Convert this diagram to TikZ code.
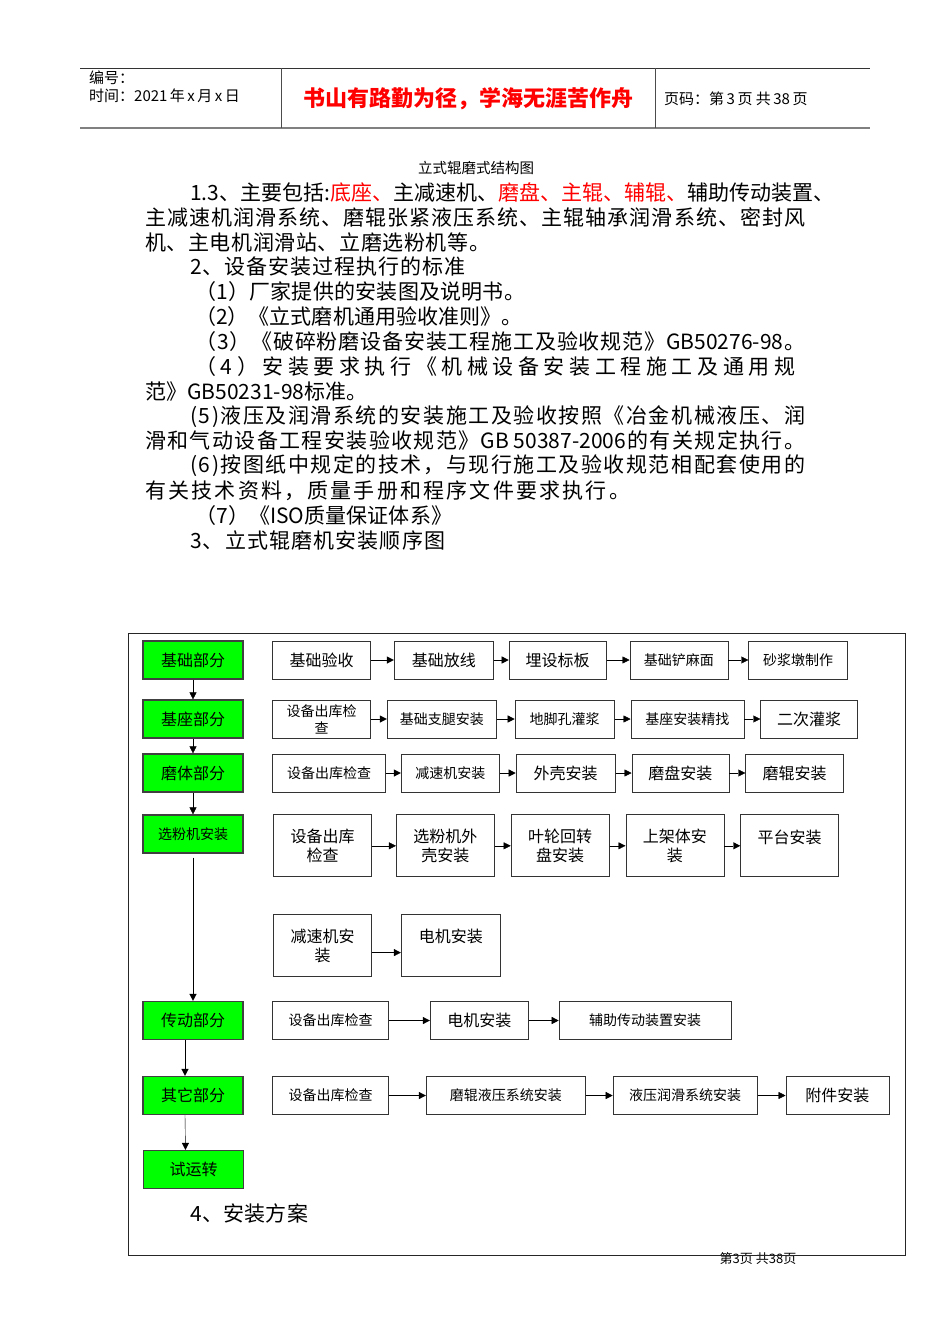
\documentclass[tikz,border=0pt]{standalone}
\usepackage{fontspec}
\newfontfamily\cjk{Noto Sans CJK SC}
\usetikzlibrary{positioning,arrows.meta}

\newcommand\fsA{\fontsize{16pt}{19pt}\selectfont}
\newcommand\fsB{\fontsize{14pt}{17pt}\selectfont}
\newcommand\fsT{\fontsize{21pt}{25pt}\selectfont}
\newcommand\fsH{\fontsize{15pt}{17pt}\selectfont}

% spread one line of text over a given width
\newcommand\sprstop{}
\def\sprstopm{\sprstop}
\def\sprA#1{{#1}\sprB}
\def\sprB#1{\def\sprtmp{#1}\ifx\sprtmp\sprstopm\else\hskip0pt plus1fil{#1}\expandafter\sprB\fi}
\newcommand\spread[2]{\makebox[#1][s]{\sprA#2\sprstop}}

\begin{document}
\begin{tikzpicture}[x=1pt, y=-1pt,
    base/.style = {rectangle, draw=black!80, line width=0.8pt,
text centered, font=\cjk\fsA},
    part/.style = {base, fill=green, draw=black!75, line width=1.2pt,
minimum width=100pt, minimum height=38pt},
    stepbox/.style = {base, minimum height=38pt, inner sep=1pt},
    tallbox/.style = {base, minimum width=98pt, minimum height=62pt,
inner sep=1pt, align=center},
    line/.style = {anchor=west, inner sep=0pt, font=\cjk\fsT},
    head/.style = {anchor=west, inner sep=0pt, font=\cjk\fsH},
    >={Triangle[length=7pt,width=7pt]}
]

  \fill[white] (0,0) rectangle (950,1344);
  \useasboundingbox (0,0) rectangle (950,1344);

  \draw[black!80, line width=0.8pt] (80,68) -- (870,68);
  \draw[black!50, line width=2pt] (80,128) -- (870,128);
  \draw[black!70, line width=0.8pt] (281,68) -- (281,128) (655,68) -- (655,128);

  \node (bianhao) [head] at (89,78) {编号：};
  \node (shijian) [head] at (89,96) {时间：2021\,年\,x\,月\,x\,日};
  \node (motto) [font=\cjk\bfseries\fontsize{22pt}{24pt}\selectfont, text=red] at (468,99) {书山有路勤为径，学海无涯苦作舟};
  \node (yema) [head] at (664,99) {页码：第\,3\,页 共\,38\,页};

  \node (title) [font=\cjk\fontsize{14.5pt}{16pt}\selectfont] at (476,168) {立式辊磨式结构图};
  \node (l1) [line] at (190,192) {\spread{630pt}{1.3、主要包括:{\color{red}底座、}主减速机、{\color{red}磨盘、}{\color{red}主辊、}{\color{red}辅辊、}辅助传动装置、}};
  \node (l2) [line] at (145,217) {\spread{660pt}{主减速机润滑系统、磨辊张紧液压系统、主辊轴承润滑系统、密封风}};
  \node (l3) [line] at (145,242) {\spread{345pt}{机、主电机润滑站、立磨选粉机等。}};
  \node (l4) [line] at (190,267) {\spread{275pt}{2、设备安装过程执行的标准}};
  \node (l5) [line] at (195,292) {\spread{330pt}{（1）厂家提供的安装图及说明书。}};
  \node (l6) [line] at (195,317) {\spread{327pt}{（2）《立式磨机通用验收准则》。}};
  \node (l7) [line] at (195,342) {\spread{610pt}{（3）《破碎粉磨设备安装工程施工及验收规范》{GB50276-98}。}};
  \node (l8) [line] at (195,367) {\spread{600pt}{（4）安装要求执行《机械设备安装工程施工及通用规}};
  \node (l9) [line] at (145,392) {\spread{215pt}{范》{GB50231-98}标准。}};
  \node (l10) [line] at (190,417) {\spread{615pt}{(5)液压及润滑系统的安装施工及验收按照《冶金机械液压、润}};
  \node (l11) [line] at (145,441) {\spread{660pt}{滑和气动设备工程安装验收规范》{GB 50387-2006}的有关规定执行。}};
  \node (l12) [line] at (190,466) {\spread{615pt}{(6)按图纸中规定的技术，与现行施工及验收规范相配套使用的}};
  \node (l13) [line] at (145,491) {\spread{485pt}{有关技术资料，质量手册和程序文件要求执行。}};
  \node (l14) [line] at (195,516) {\spread{257pt}{（7）《{ISO}质量保证体系》}};
  \node (l15) [line] at (190,541) {\spread{255pt}{3、立式辊磨机安装顺序图}};

  \node (footer) [font=\cjk\fontsize{13pt}{15pt}\selectfont] at (758,1259) {第3页 共38页};
  \draw[black!85, line width=0.9pt] (128,633) rectangle (905,1255);

  \node (jichu) [part] at (193,660) {基础部分};
  \node (jizuo) [part] at (193,719) {基座部分};
  \node (moti) [part] at (193,773) {磨体部分};
  \node (xuanfen) [part, font=\cjk\fsB] at (193,834) {选粉机安装};
  \node (chuandong) [part] at (193,1020.5) {传动部分};
  \node (qita) [part] at (193,1095.5) {其它部分};
  \node (shiyun) [part] at (193.5,1169.5) {试运转};

  \node (r1a) [stepbox, minimum width=98pt, right=28.5pt of jichu] {基础验收};
  \node (r1b) [stepbox, minimum width=99pt, right=23pt of r1a] {基础放线};
  \node (r1c) [stepbox, minimum width=97pt, right=15pt of r1b] {埋设标板};
  \node (r1d) [stepbox, minimum width=98pt, right=23pt of r1c, font=\cjk\fsB] {基础铲麻面};
  \node (r1e) [stepbox, minimum width=99pt, right=20pt of r1d, font=\cjk\fsB] {砂浆墩制作};

  \node (r2a) [stepbox, minimum width=98pt, right=28.5pt of jizuo, font=\cjk\fsB, align=center,
text height=30pt, text depth=2pt, inner ysep=3pt] {设备出库检\\查};
  \node (r2b) [stepbox, minimum width=109pt, right=16pt of r2a, font=\cjk\fsB] {基础支腿安装};
  \node (r2c) [stepbox, minimum width=99pt, right=18pt of r2b, font=\cjk\fsB] {地脚孔灌浆};
  \node (r2d) [stepbox, minimum width=113pt, right=16pt of r2c, font=\cjk\fsB] {基座安装精找};
  \node (r2e) [stepbox, minimum width=97pt, right=16pt of r2d] {二次灌浆};

  \node (r3a) [stepbox, minimum width=113pt, right=28.5pt of moti, font=\cjk\fsB] {设备出库检查};
  \node (r3b) [stepbox, minimum width=98pt, right=15pt of r3a, font=\cjk\fsB] {减速机安装};
  \node (r3c) [stepbox, minimum width=99pt, right=16pt of r3b] {外壳安装};
  \node (r3d) [stepbox, minimum width=97pt, right=16pt of r3c] {磨盘安装};
  \node (r3e) [stepbox, minimum width=98pt, right=16pt of r3d] {磨辊安装};

  \node (r4a) [tallbox, right=29.5pt of xuanfen.north east, anchor=north west] {设备出库\\检查};
  \node (r4b) [tallbox, right=24pt of r4a] {选粉机外\\壳安装};
  \node (r4c) [tallbox, right=16pt of r4b] {叶轮回转\\盘安装};
  \node (r4d) [tallbox, right=16pt of r4c] {上架体安\\装};
  \node (r4e) [tallbox, right=16pt of r4d] {平台安装\\\mbox{}};

  \node (r5a) [tallbox, below=37pt of r4a] {减速机安\\装};
  \node (r5b) [tallbox, minimum width=99pt, right=29pt of r5a] {电机安装\\\mbox{}};

  \node (r6a) [stepbox, minimum width=116pt, right=28.5pt of chuandong, font=\cjk\fsB] {设备出库检查};
  \node (r6b) [stepbox, minimum width=98pt, right=41pt of r6a] {电机安装};
  \node (r6c) [stepbox, minimum width=172pt, right=30pt of r6b, font=\cjk\fsB] {辅助传动装置安装};

  \node (r7a) [stepbox, minimum width=116pt, right=28.5pt of qita, font=\cjk\fsB] {设备出库检查};
  \node (r7b) [stepbox, minimum width=159pt, right=37pt of r7a, font=\cjk\fsB] {磨辊液压系统安装};
  \node (r7c) [stepbox, minimum width=144pt, right=27pt of r7b, font=\cjk\fsB] {液压润滑系统安装};
  \node (r7d) [stepbox, minimum width=103pt, right=28pt of r7c] {附件安装};

  \node (fangan) [line] at (190,1213) {\spread{118pt}{4、安装方案}};

  \draw[->] (jichu) -- (jizuo);
  \draw[->] (jizuo) -- (moti);
  \draw[->] (moti) -- (xuanfen);
  \draw[->, shorten <=4pt] (xuanfen) -- (chuandong);
  \draw[->] ([xshift=-8pt]chuandong.south) -- ([xshift=-8pt]qita.north);
  \draw[->] ([xshift=-8pt]qita.south) -- ([xshift=-8pt]shiyun.north);

  \draw[->] (r1a) -- (r1b);
  \draw[->] (r1b) -- (r1c);
  \draw[->] (r1c) -- (r1d);
  \draw[->] (r1d) -- (r1e);
  \draw[->] (r2a) -- (r2b);
  \draw[->] (r2b) -- (r2c);
  \draw[->] (r2c) -- (r2d);
  \draw[->] (r2d) -- (r2e);
  \draw[->] (r3a) -- (r3b);
  \draw[->] (r3b) -- (r3c);
  \draw[->] (r3c) -- (r3d);
  \draw[->] (r3d) -- (r3e);
  \draw[->] (r4a) -- (r4b);
  \draw[->] (r4b) -- (r4c);
  \draw[->] (r4c) -- (r4d);
  \draw[->] (r4d) -- (r4e);
  \draw[->] ([yshift=-7pt]r5a.east) -- ([yshift=-7pt]r5b.west);
  \draw[->] (r6a) -- (r6b);
  \draw[->] (r6b) -- (r6c);
  \draw[->] (r7a) -- (r7b);
  \draw[->] (r7b) -- (r7c);
  \draw[->] (r7c) -- (r7d);

\end{tikzpicture}
\end{document}
